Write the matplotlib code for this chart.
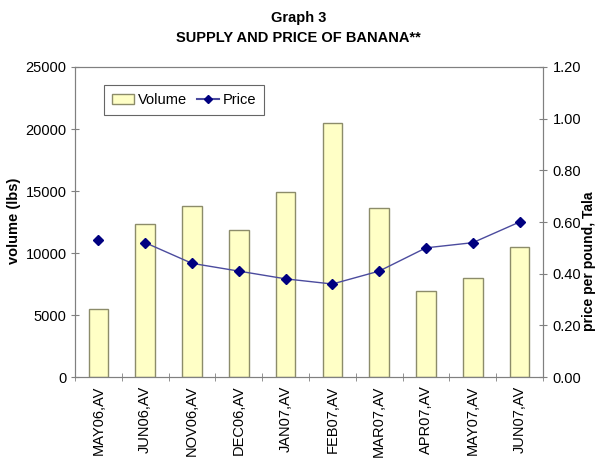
import matplotlib
matplotlib.use("Agg")
import matplotlib.pyplot as plt
import numpy as np
from matplotlib.ticker import FixedLocator, NullFormatter
from matplotlib.lines import Line2D
from matplotlib.patches import Patch

plt.rcParams['font.family'] = ['Liberation Sans', 'DejaVu Sans']

categories = ["MAY06,AV", "JUN06,AV", "NOV06,AV", "DEC06,AV", "JAN07,AV",
              "FEB07,AV", "MAR07,AV", "APR07,AV", "MAY07,AV", "JUN07,AV"]
volume = [5500, 12300, 13800, 11850, 14900, 20500, 13600, 6900, 8000, 10500]
price = [0.53, 0.52, 0.44, 0.41, 0.38, 0.36, 0.41, 0.50, 0.52, 0.60]
vol_ticks = [0, 5000, 10000, 15000, 20000, 25000]
price_ticks = [0.0, 0.2, 0.4, 0.6, 0.8, 1.0, 1.2]

FS = 10.5
fig = plt.figure(figsize=(5.97, 4.63), dpi=100)
ax = fig.add_axes([0.1256, 0.1857, 0.7839, 0.6696])
x = np.arange(len(categories))

spine_c = '#808080'
ax.bar(x, volume, width=0.42, color='#FFFFC6', edgecolor='#8C8C6A',
       linewidth=1.0, label='Volume', zorder=2)
ax.set_xlim(-0.5, len(categories) - 0.5)
ax.set_ylim(0, 25000)
ax.set_yticks(vol_ticks)
ax.set_yticklabels([str(v) for v in vol_ticks], fontsize=FS)
ax.set_xticks(x)
ax.set_xticklabels(categories, rotation=90, fontsize=FS, va='top')
ax.tick_params(axis='x', which='major', length=0, pad=6)
ax.xaxis.set_minor_locator(FixedLocator(np.arange(-0.5, len(categories), 1.0)))
ax.xaxis.set_minor_formatter(NullFormatter())
ax.tick_params(axis='x', which='minor', length=6, direction='inout', color=spine_c)
ax.tick_params(axis='y', length=6, direction='inout', color=spine_c, pad=3)
for s in ax.spines.values():
    s.set_color(spine_c)

ax2 = ax.twinx()
ax2.set_ylim(0, 1.2)
ax2.set_yticks(price_ticks)
ax2.set_yticklabels(['%.2f' % v for v in price_ticks], fontsize=FS)
ax2.tick_params(axis='y', length=6, direction='inout', color=spine_c, pad=4)
for s in ax2.spines.values():
    s.set_color(spine_c)
ax2.plot(x[1:], price[1:], color='#4B4B9E', linewidth=1.0, zorder=3)
ax2.plot(x, price, linestyle='none', marker='D', markersize=5.5,
         color='#000080', zorder=4)

fig.text(0.0235, 0.523, 'volume (lbs)', rotation=90, ha='center', va='center',
         fontsize=FS, fontweight='bold')
fig.text(0.986, 0.436, 'price per pound, Tala', rotation=90, ha='center', va='center',
         fontsize=10, fontweight='bold')

handles = [Patch(facecolor='#FFFFC6', edgecolor='#8C8C6A', label='Volume'),
           Line2D([0], [0], color='#4B4B9E', marker='D', markersize=4.5,
                  markerfacecolor='#000080', markeredgecolor='#000080', label='Price')]
leg = ax.legend(handles=handles, loc='upper left', bbox_to_anchor=(0.047, 0.965),
                ncol=2, fontsize=FS, frameon=True, fancybox=False,
                edgecolor='#404040', handlelength=1.5, handletextpad=0.25,
                columnspacing=0.7, borderpad=0.55)
leg.get_frame().set_linewidth(0.8)

fig.text(0.5, 0.961, 'Graph 3', ha='center', va='center', fontsize=FS, fontweight='bold')
fig.text(0.5, 0.918, 'SUPPLY AND PRICE OF BANANA**', ha='center', va='center',
         fontsize=FS, fontweight='bold')

fig.savefig('out.png', dpi=100)
